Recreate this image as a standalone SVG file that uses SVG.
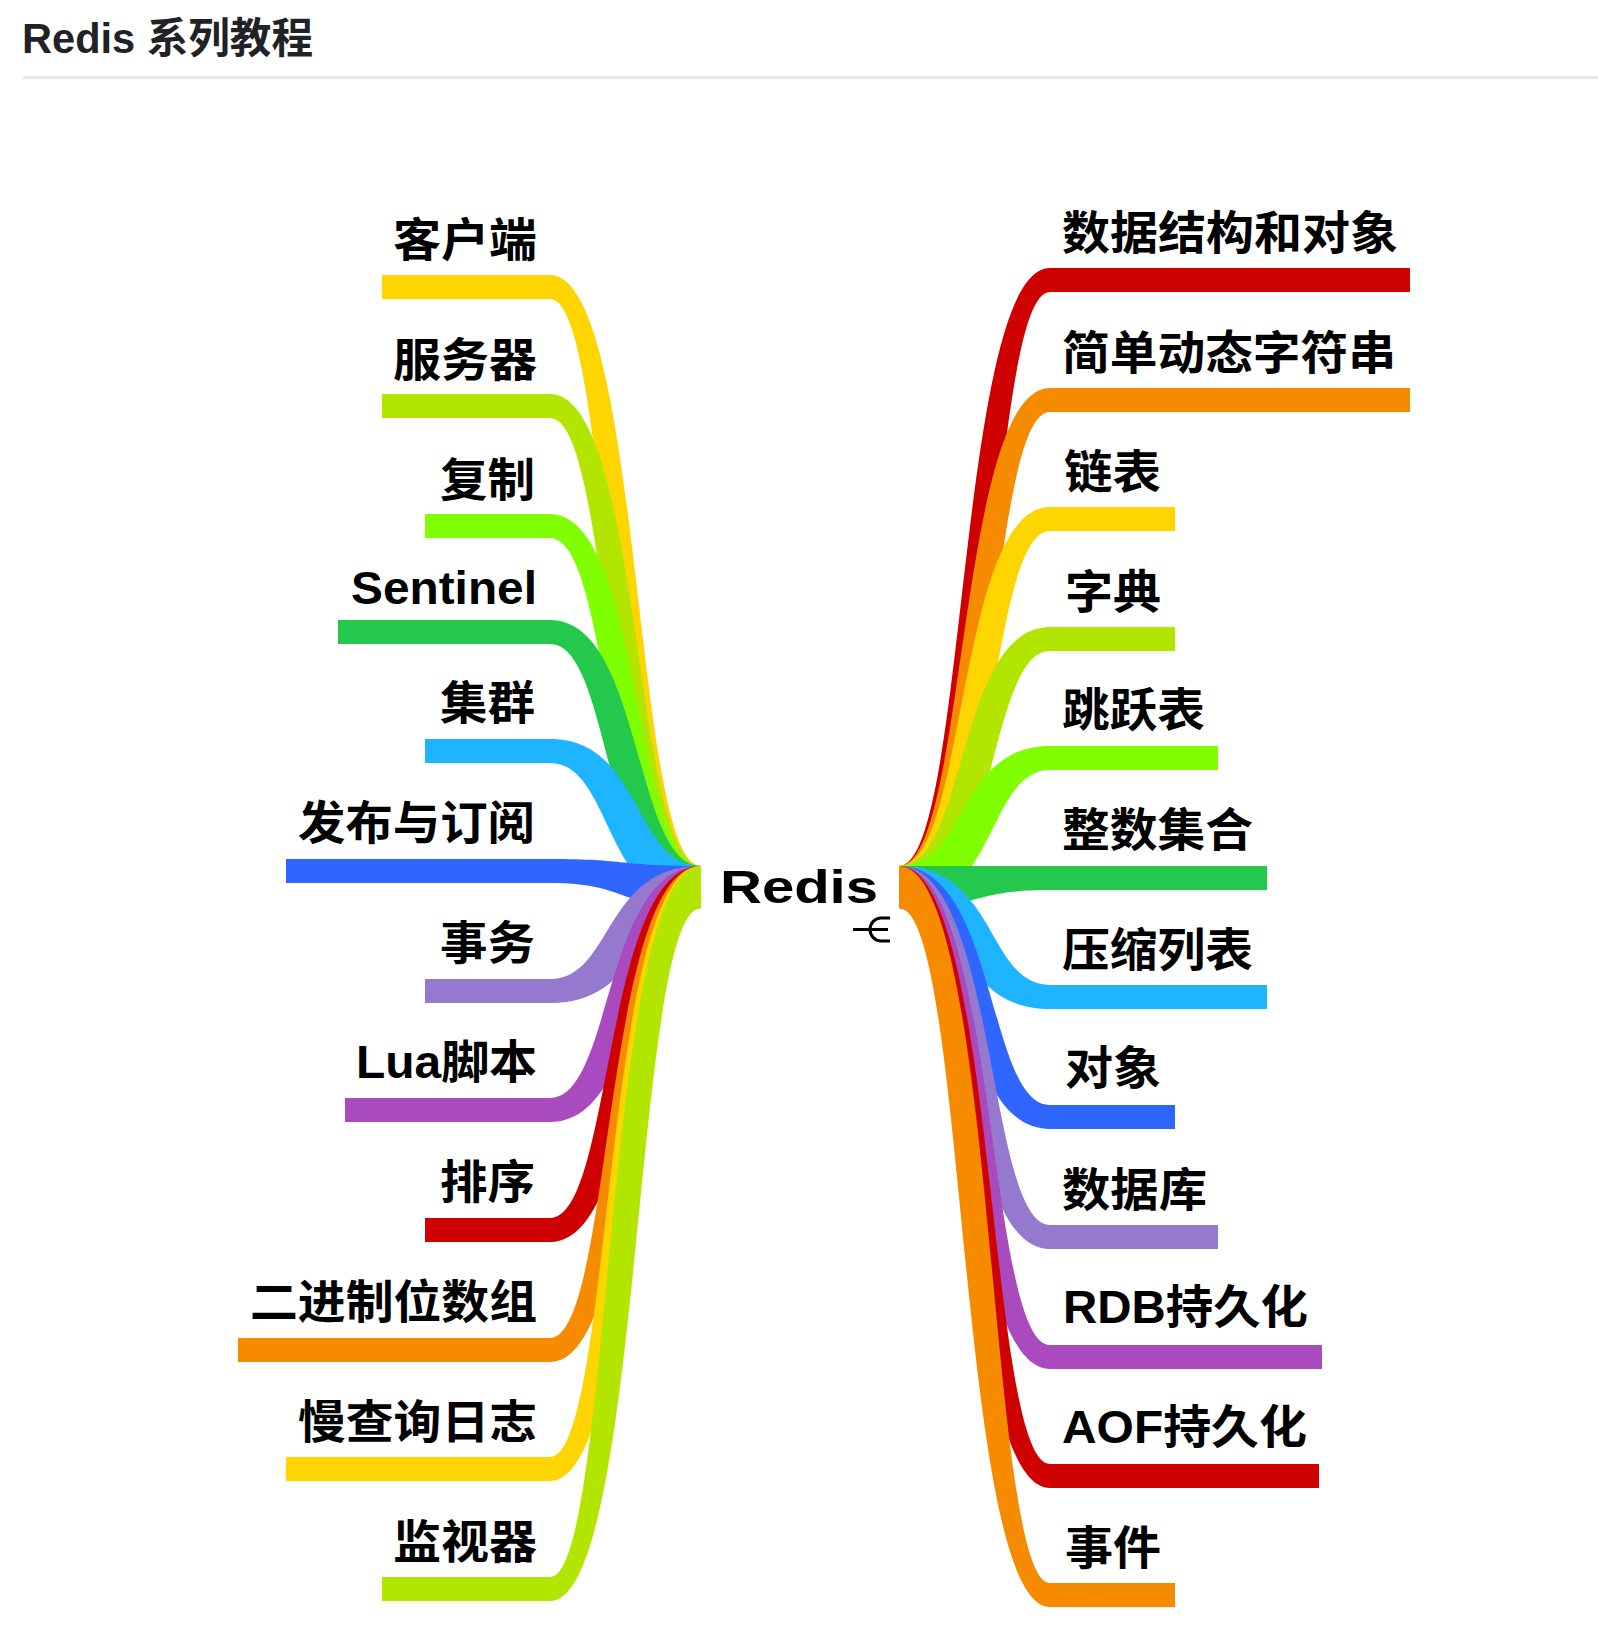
<svg xmlns="http://www.w3.org/2000/svg" width="1598" height="1636" viewBox="0 0 1598 1636">
<style>
.t{font-family:"Liberation Sans","Noto Sans CJK SC",sans-serif;font-weight:bold;font-size:46px;fill:#000}
.title{font-family:"Liberation Sans","Noto Sans CJK SC",sans-serif;font-weight:bold;font-size:42px;fill:#1f2328}
.yel{fill:#FFD500}.ygr{fill:#B2E600}.lim{fill:#80FF00}.grn{fill:#24C84D}.cya{fill:#1EB4FF}.blu{fill:#2F66FF}
.lpu{fill:#9579CF}.pur{fill:#A94BBE}.red{fill:#CF0000}.ora{fill:#F68B00}
</style>
<rect width="1598" height="1636" fill="#fff"/>
<g id="header">
<text class="title" x="22" y="53" textLength="291" lengthAdjust="spacingAndGlyphs">Redis 系列教程</text>
<rect x="23" y="76" width="1575" height="3" fill="#e4e8ec"/>
</g>
<g id="connectors">
<path class="yel" d="M382,275 L550,275 C643,275 633,866 701,866 L701,908 C603,908 613,299 550,299 L382,299 Z"/>
<path class="ygr" d="M382,394 L550,394 C643,394 633,866 701,866 L701,908 C603,908 613,418 550,418 L382,418 Z"/>
<path class="lim" d="M425,514 L550,514 C643,514 633,866 701,866 L701,908 C603,908 613,538 550,538 L425,538 Z"/>
<path class="grn" d="M338,620 L550,620 C643,620 633,866 701,866 L701,908 C603,908 613,644 550,644 L338,644 Z"/>
<path class="cya" d="M425,739 L550,739 C643,739 633,866 701,866 L701,908 C603,908 613,763 550,763 L425,763 Z"/>
<path class="blu" d="M286,859 L550,859 C628,859 618,866 701,866 L701,908 C618,908 628,883 550,883 L286,883 Z"/>
<path class="lpu" d="M425,979 L550,979 C613,979 603,866 701,866 L701,908 C633,908 643,1003 550,1003 L425,1003 Z"/>
<path class="pur" d="M345,1098 L550,1098 C613,1098 603,866 701,866 L701,908 C633,908 643,1122 550,1122 L345,1122 Z"/>
<path class="red" d="M425,1218 L550,1218 C613,1218 603,866 701,866 L701,908 C633,908 643,1242 550,1242 L425,1242 Z"/>
<path class="ora" d="M238,1338 L550,1338 C613,1338 603,866 701,866 L701,908 C633,908 643,1362 550,1362 L238,1362 Z"/>
<path class="yel" d="M286,1457 L550,1457 C613,1457 603,866 701,866 L701,908 C633,908 643,1481 550,1481 L286,1481 Z"/>
<path class="ygr" d="M382,1577 L550,1577 C613,1577 603,866 701,866 L701,908 C633,908 643,1601 550,1601 L382,1601 Z"/>

<path class="red" d="M1410,268 L1050,268 C957,268 967,866 899,866 L899,908 C997,908 987,292 1050,292 L1410,292 Z"/>
<path class="ora" d="M1410,388 L1050,388 C957,388 967,866 899,866 L899,908 C997,908 987,412 1050,412 L1410,412 Z"/>
<path class="yel" d="M1175,507 L1050,507 C957,507 967,866 899,866 L899,908 C997,908 987,531 1050,531 L1175,531 Z"/>
<path class="ygr" d="M1175,627 L1050,627 C957,627 967,866 899,866 L899,908 C997,908 987,651 1050,651 L1175,651 Z"/>
<path class="lim" d="M1218,746 L1050,746 C957,746 967,866 899,866 L899,908 C997,908 987,770 1050,770 L1218,770 Z"/>
<path class="grn" d="M1267,866 L899,866 L899,908 C982,908 972,890 1050,890 L1267,890 Z"/>
<path class="cya" d="M1267,985 L1050,985 C987,985 997,866 899,866 L899,908 C967,908 957,1009 1050,1009 L1267,1009 Z"/>
<path class="blu" d="M1175,1105 L1050,1105 C987,1105 997,866 899,866 L899,908 C967,908 957,1129 1050,1129 L1175,1129 Z"/>
<path class="lpu" d="M1218,1225 L1050,1225 C987,1225 997,866 899,866 L899,908 C967,908 957,1249 1050,1249 L1218,1249 Z"/>
<path class="pur" d="M1322,1345 L1050,1345 C987,1345 997,866 899,866 L899,908 C967,908 957,1369 1050,1369 L1322,1369 Z"/>
<path class="red" d="M1319,1464 L1050,1464 C987,1464 997,866 899,866 L899,908 C967,908 957,1488 1050,1488 L1319,1488 Z"/>
<path class="ora" d="M1175,1583 L1050,1583 C987,1583 997,866 899,866 L899,908 C967,908 957,1607 1050,1607 L1175,1607 Z"/>
</g>
<g id="root">
<text class="t" x="720" y="903" font-size="52" textLength="158" lengthAdjust="spacingAndGlyphs">Redis</text>
<path d="M853,929.5 H888 M890,918 H881 A11 11.5 0 0 0 881,941 H890" fill="none" stroke="#000" stroke-width="3"/>
</g>
<g id="node-kehuduan"><text class="t" x="393" y="256" textLength="144" lengthAdjust="spacingAndGlyphs">客户端</text></g>
<g id="node-fuwuqi"><text class="t" x="393" y="376" textLength="144" lengthAdjust="spacingAndGlyphs">服务器</text></g>
<g id="node-fuzhi"><text class="t" x="440" y="496" textLength="95" lengthAdjust="spacingAndGlyphs">复制</text></g>
<g id="node-sentinel"><text class="t" x="351" y="604" textLength="186" lengthAdjust="spacingAndGlyphs">Sentinel</text></g>
<g id="node-jiqun"><text class="t" x="440" y="719" textLength="95" lengthAdjust="spacingAndGlyphs">集群</text></g>
<g id="node-pubsub"><text class="t" x="298" y="839" textLength="237" lengthAdjust="spacingAndGlyphs">发布与订阅</text></g>
<g id="node-shiwu"><text class="t" x="440" y="959" textLength="95" lengthAdjust="spacingAndGlyphs">事务</text></g>
<g id="node-lua"><text class="t" x="356" y="1078" textLength="181" lengthAdjust="spacingAndGlyphs">Lua脚本</text></g>
<g id="node-paixu"><text class="t" x="440" y="1198" textLength="95" lengthAdjust="spacingAndGlyphs">排序</text></g>
<g id="node-bitarray"><text class="t" x="250" y="1318" textLength="287" lengthAdjust="spacingAndGlyphs">二进制位数组</text></g>
<g id="node-slowlog"><text class="t" x="298" y="1438" textLength="239" lengthAdjust="spacingAndGlyphs">慢查询日志</text></g>
<g id="node-monitor"><text class="t" x="393" y="1558" textLength="144" lengthAdjust="spacingAndGlyphs">监视器</text></g>

<g id="node-datastruct"><text class="t" x="1062" y="249" textLength="336" lengthAdjust="spacingAndGlyphs">数据结构和对象</text></g>
<g id="node-sds"><text class="t" x="1062" y="369" textLength="334" lengthAdjust="spacingAndGlyphs">简单动态字符串</text></g>
<g id="node-list"><text class="t" x="1064" y="488" textLength="97" lengthAdjust="spacingAndGlyphs">链表</text></g>
<g id="node-dict"><text class="t" x="1065" y="608" textLength="96" lengthAdjust="spacingAndGlyphs">字典</text></g>
<g id="node-skiplist"><text class="t" x="1062" y="726" textLength="143" lengthAdjust="spacingAndGlyphs">跳跃表</text></g>
<g id="node-intset"><text class="t" x="1062" y="846" textLength="191" lengthAdjust="spacingAndGlyphs">整数集合</text></g>
<g id="node-ziplist"><text class="t" x="1062" y="966" textLength="191" lengthAdjust="spacingAndGlyphs">压缩列表</text></g>
<g id="node-object"><text class="t" x="1065" y="1084" textLength="96" lengthAdjust="spacingAndGlyphs">对象</text></g>
<g id="node-db"><text class="t" x="1062" y="1206" textLength="145" lengthAdjust="spacingAndGlyphs">数据库</text></g>
<g id="node-rdb"><text class="t" x="1063" y="1323" textLength="245" lengthAdjust="spacingAndGlyphs">RDB持久化</text></g>
<g id="node-aof"><text class="t" x="1062" y="1443" textLength="245" lengthAdjust="spacingAndGlyphs">AOF持久化</text></g>
<g id="node-event"><text class="t" x="1065" y="1564" textLength="96" lengthAdjust="spacingAndGlyphs">事件</text></g>
</svg>
